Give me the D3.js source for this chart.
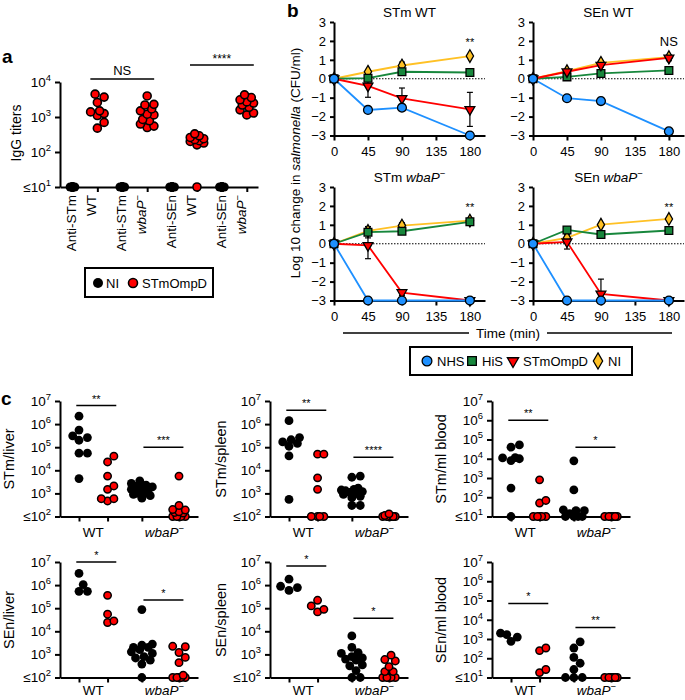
<!DOCTYPE html>
<html><head><meta charset="utf-8">
<script src="https://cdn.jsdelivr.net/npm/d3@7"></script>
<style>body{margin:0;background:#fff}svg{display:block}</style>
</head><body>
<svg id="chart" width="685" height="700"></svg>
<script>
// ================= DATA =================
// Panel a
const aCategories = [["Anti-STm","WT"],["Anti-STm","wbaP"],["Anti-SEn","WT"],["Anti-SEn","wbaP"]];
const aGroups = ["NI","STmOmpD"];
const aNI = [
  [10,10,10,10,10,10,10,10,10,10],
  [10,10,10,10,10,10,10,10,10,10],
  [10,10,10,10,10,10,10,10,10,10],
  [10,10,10,10,10,10,10,10,10,10]];
const aSTmOmpD = [
  [4500,3700,2600,1500,1400,1250,1100,700,480],
  [4000,2300,2200,1700,1500,1200,1150,850,780,630,550,500],
  [330,290,260,240,225,210,200,180,160,10],
  [4300,3600,3100,2700,2500,2200,1900,1600,1300,1150]];
const aTicks = [10,100,1000,10000];
const aSig = [{from:1,to:3,label:"NS"},{from:5,to:7,label:"****"}];

// Panel b
const bTimes = [0,45,90,180];
const bTimeTicks = [0,45,90,135,180];
const bYTicks = [-3,-2,-1,0,1,2,3];
const bSeries = ["NHS","HiS","STmOmpD","NI"];
const bTitles = [["STm WT",""],["SEn WT",""],["STm ","wbaP"],["SEn ","wbaP"]];
const bNHS      = [[0,-1.65,-1.53,-3.0],[0,-1.03,-1.18,-2.78],[0,-3,-3,-3],[0,-3,-3,-3]];
const bHiS      = [[0,0.03,0.37,0.33],[0,0.10,0.28,0.44],[0,0.61,0.66,1.16],[0,0.73,0.49,0.70]];
const bSTmOmpD  = [[0,-0.38,-1.04,-1.62],[0,0.37,0.72,1.10],[0,-0.09,-2.58,-3.0],[0,0.10,-2.65,-3.0]];
const bNI       = [[0,0.37,0.70,1.20],[0,0.40,0.84,1.14],[0,0.68,0.96,1.22],[0,0.31,1.01,1.31]];
const bNHSErr     = [[0,0.08,0.08,0],[0,0.05,0.05,0.05],[0,0,0,0],[0,0,0,0]];
const bHiSErr     = [[0,0.10,0.12,0.05],[0,0.05,0.08,0.05],[0,0.30,0.12,0.10],[0,0.12,0.08,0.05]];
const bSTmOmpDErr = [[0,0.60,0.55,0.90],[0,0.08,0.10,0.15],[0,0.70,0.15,0],[0,0.38,0.78,0]];
const bNIErr      = [[0,0.08,0.18,0.05],[0,0.08,0.12,0.08],[0,0.15,0.15,0.10],[0,0.08,0.05,0.05]];
const bSig = ["**","NS","**","**"];

// Panel c
const cPanels = ["STm/liver","STm/spleen","STm/ml blood","SEn/liver","SEn/spleen","SEn/ml blood"];
const cFloorExp = [2,2,1,2,2,1];
const cGroupLabels = ["WT","wbaP"];
const cNI_WT = [
  [2.2e6,5.5e5,3.1e5,2.6e5,2.0e5,5.5e4,5.5e4,4.4e3],
  [1.4e6,2.6e5,2.1e5,1.7e5,1.45e5,1.1e5,4.2e4,550],
  [5.2e4,4.0e4,1.15e4,1.1e4,1.0e4,8e3,300,10],
  [3.2e6,1.05e6,5.4e5,5.4e5],
  [1.8e6,8.9e5,7.8e5,5.9e5],
  [1700,760,1260,2000]];
const cOmpD_WT = [
  [41000,23000,5600,2100,1500,590,470,590],
  [5.0e4,5.0e4,4.7e3,1.5e3,100,100,100,100],
  [800,68,50,10,10,10,10,10],
  [3.6e5,5.5e4,2.4e4,2.8e4],
  [2.2e5,1.26e5,8.9e4,6.9e4],
  [340,250,26,18]];
const cNI_wbaP = [
  [3500,2700,2300,2000,1900,1700,1500,1100,1000,950,900,800,620],
  [5600,5000,1700,1500,1400,1300,1200,1100,1000,900,750,650,300,300],
  [7800,240,22,20,20,14,10,10,10,10],
  [8.7e4,2800,2500,2000,2000,1600,1300,1100,800,700,560,380,100],
  [6300,2000,1200,1100,800,700,630,560,350,320,200,100,100],
  [710,340,110,55,26,10,10,10]];
const cOmpD_wbaP = [
  [5600,300,200,190,160,150,140,100,100,100,100,100],
  [130,110,100,100,100,100,100,100],
  [10,10,10,10,10,10],
  [2240,2140,1200,740,440,125,100,100,100,100,100],
  [930,600,520,295,180,180,100,100,100,100,100],
  [10,10,10,10,10,10]];
const cSigWT   = ["**","**","**","*","*","*"];
const cSigWbaP = ["***","****","*","*","*","**"];
const cSigLevelWT   = [6.8,6.6,6.0,7.0,6.83,4.85];
const cSigLevelWbaP = [5.0,4.57,4.6,5.35,4.57,3.6];

// ================= STYLE / LAYOUT =================
const FONT = "'Liberation Sans', Arial, Helvetica, sans-serif";
const bColors = ["#1E90FF","#17873C","#FF0000","#FFC125"];
const svg = d3.select("#chart").attr("font-family", FONT);

function styleAxis(g, fs){
  g.attr("font-family", FONT).attr("font-size", fs || 13);
  g.select(".domain").attr("stroke","#000").attr("stroke-width",2);
  g.selectAll(".tick line").attr("stroke","#000").attr("stroke-width",2);
  g.selectAll(".tick text").attr("fill","#000");
}
function powLabels(g, floorVal){
  g.selectAll(".tick text").each(function(d){
    const t = d3.select(this); t.text(null);
    const e = Math.round(Math.log10(d));
    if (d === floorVal) t.append("tspan").text("≤");
    t.append("tspan").text("10");
    t.append("tspan").attr("dy",-6).attr("font-size","0.7em").text(e);
  });
}
function wbaPText(sel, prefix, label){
  if (prefix) sel.append("tspan").text(prefix);
  if (label === "wbaP"){
    sel.append("tspan").attr("font-style","italic").text("wbaP");
    sel.append("tspan").attr("dy",-5).attr("font-size","0.7em").text("−");
  } else sel.append("tspan").text(label);
}
function swarm(vals, yFn, r, maxW){
  const pts = vals.map(v=>({v, py:yFn(v)})).sort((a,b)=>d3.ascending(a.v,b.v));
  const step = r*0.5, cands=[0];
  for(let k=1;k*step<=maxW+1e-6;k++){cands.push(k*step,-k*step);}
  const placed=[];
  for(const p of pts){
    let best=0,bestD=-1;
    for(const c of cands){
      let md=Infinity;
      for(const q of placed){const d=Math.hypot(c-q.dx,p.py-q.py); if(d<md)md=d;}
      if(md>=2*r*0.9){best=c;break;}
      if(md>bestD+1e-9){bestD=md;best=c;}
    }
    p.dx=best; placed.push(p);
  }
  return pts;
}
function panelLetter(x,y,t){
  svg.append("text").attr("x",x).attr("y",y).attr("font-size",19).attr("font-weight","bold").text(t);
}

// ================= PANEL a =================
(function(){
  const g = svg.append("g");
  const ay = d3.scaleLog().domain([10,1e4]).range([187,82]);
  const ax = d3.scaleLinear().domain([-0.5,7.45]).range([60,258]);
  g.append("g").attr("transform","translate(60,0)")
    .call(d3.axisLeft(ay).tickValues(aTicks).tickSize(5).tickSizeOuter(0).tickPadding(4))
    .call(s=>styleAxis(s,13.5)).call(s=>powLabels(s,10));
  g.append("g").attr("transform","translate(0,187)")
    .call(d3.axisBottom(ax).tickValues(d3.range(8)).tickFormat("").tickSize(5).tickSizeOuter(0))
    .call(s=>styleAxis(s));
  g.append("text").attr("transform","translate(21,133) rotate(-90)").attr("text-anchor","middle")
    .attr("font-size",14).text("IgG titers");
  aCategories.forEach((c,i)=>{
    [[aNI[i],0,"#000"],[aSTmOmpD[i],1,"#FF0000"]].forEach(([vals,gi,col])=>{
      const cx = ax(2*i+gi);
      const pts = swarm(vals, ay, 4.5, gi===0?3:8);
      g.selectAll(null).data(pts).enter().append("circle")
        .attr("cx",d=>cx+d.dx).attr("cy",d=>d.py).attr("r",gi===0?4.6:4)
        .attr("fill",col).attr("stroke","#000").attr("stroke-width",gi===0?0:1.6);
    });
    const x0 = ax(2*i);
    const t1 = g.append("text").attr("transform",`translate(${x0+4},195) rotate(-90)`)
      .attr("text-anchor","end").attr("font-size",13.5);
    t1.text(c[0]);
    const t2 = g.append("text").attr("transform",`translate(${x0+24},195) rotate(-90)`)
      .attr("text-anchor","end").attr("font-size",13.5);
    wbaPText(t2,"",c[1]);
  });
  const sigY = [79,65];
  aSig.forEach((s,k)=>{
    const x1 = ax(s.from)-7, x2 = ax(s.to)+7;
    g.append("line").attr("x1",x1).attr("x2",x2).attr("y1",sigY[k]).attr("y2",sigY[k]).attr("stroke","#000").attr("stroke-width",1.5);
    g.append("text").attr("x",(x1+x2)/2).attr("y",sigY[k]-(s.label==="NS"?4:2)).attr("text-anchor","middle")
      .attr("font-size",s.label==="NS"?13:12).text(s.label);
  });
  // legend
  g.append("rect").attr("x",85).attr("y",268).attr("width",128).attr("height",29)
    .attr("fill","none").attr("stroke","#000").attr("stroke-width",2);
  g.append("circle").attr("cx",98).attr("cy",283).attr("r",5).attr("fill","#000");
  g.append("text").attr("x",106).attr("y",288).attr("font-size",13).text(aGroups[0]);
  g.append("circle").attr("cx",133).attr("cy",283).attr("r",4.5).attr("fill","#FF0000").attr("stroke","#000").attr("stroke-width",1.6);
  g.append("text").attr("x",142).attr("y",288).attr("font-size",13).text(aGroups[1]);
  panelLetter(2,63,"a");
})();

// ================= PANEL b =================
(function(){
  const seriesVals = [bNHS,bHiS,bSTmOmpD,bNI];
  const seriesErr = [bNHSErr,bHiSErr,bSTmOmpDErr,bNIErr];
  const symbols = [d3.symbolCircle,d3.symbolSquare,d3.symbolTriangle,d3.symbolDiamond];
  const sizes = [62,60,42,46];
  const layout = [[334,22],[533,22],[334,187],[533,187]];
  const drawOrder = [3,1,2,0];
  layout.forEach(([X,Y],k)=>{
    const g = svg.append("g");
    const x = d3.scaleLinear().domain([0,200]).range([X,X+151]);
    const y = d3.scaleLinear().domain([-3,3]).range([Y+113.5,Y]);
    g.append("line").attr("x1",x(0)).attr("x2",x(200)).attr("y1",y(0)).attr("y2",y(0))
      .attr("stroke","#000").attr("stroke-width",1).attr("stroke-dasharray","1.5,1.5");
    g.append("g").attr("transform",`translate(${X},0)`)
      .call(d3.axisLeft(y).tickValues(bYTicks).tickSize(4).tickSizeOuter(0).tickPadding(4)
        .tickFormat(d=>d<0?"−"+Math.abs(d):d)).call(s=>styleAxis(s,13));
    g.append("g").attr("transform",`translate(0,${y(-3)})`)
      .call(d3.axisBottom(x).tickValues(bTimeTicks).tickSize(5).tickSizeOuter(0).tickPadding(6))
      .call(s=>styleAxis(s,13));
    const line = d3.line().x((d,i)=>x(bTimes[i])).y(d=>y(d));
    drawOrder.forEach(si=>{
      g.append("path").attr("d",line(seriesVals[si][k])).attr("fill","none")
        .attr("stroke",bColors[si]).attr("stroke-width",1.8);
    });
    drawOrder.forEach(si=>{
      seriesVals[si][k].forEach((v,i)=>{
        const e = seriesErr[si][k][i];
        if(e>0){
          const lo = Math.max(-3,v-e), hi = Math.min(3,v+e), cx=x(bTimes[i]);
          g.append("line").attr("x1",cx).attr("x2",cx).attr("y1",y(lo)).attr("y2",y(hi)).attr("stroke","#000").attr("stroke-width",1.2);
          [lo,hi].forEach(b=>{ if(b>-3) g.append("line").attr("x1",cx-3).attr("x2",cx+3).attr("y1",y(b)).attr("y2",y(b)).attr("stroke","#000").attr("stroke-width",1.2);});
        }
      });
    });
    drawOrder.forEach(si=>{
      seriesVals[si][k].forEach((v,i)=>{
        g.append("path").attr("d",d3.symbol(symbols[si],sizes[si])())
          .attr("transform",`translate(${x(bTimes[i])},${y(v)})`+(si===2?" rotate(180)":""))
          .attr("fill",bColors[si]).attr("stroke","#000").attr("stroke-width",1.3);
      });
    });
    const tt = g.append("text").attr("x",(x(0)+x(200))/2).attr("y",Y-5).attr("text-anchor","middle").attr("font-size",13.5);
    wbaPText(tt,bTitles[k][0],bTitles[k][1]);
    g.append("text").attr("x",x(180)).attr("y",y(1.72)).attr("text-anchor","middle")
      .attr("font-size",bSig[k]==="NS"?13:11).text(bSig[k]);
  });
  const yl = svg.append("text").attr("transform","translate(300,163) rotate(-90)").attr("text-anchor","middle").attr("font-size",13.5);
  yl.append("tspan").text("Log 10 change in ");
  yl.append("tspan").attr("font-style","italic").text("salmonella");
  yl.append("tspan").text(" (CFU/ml)");
  svg.append("line").attr("x1",343).attr("x2",469).attr("y1",333).attr("y2",333).attr("stroke","#000").attr("stroke-width",1.3);
  svg.append("line").attr("x1",547).attr("x2",672).attr("y1",333).attr("y2",333).attr("stroke","#000").attr("stroke-width",1.3);
  svg.append("text").attr("x",508).attr("y",338).attr("text-anchor","middle").attr("font-size",13.5).text("Time (min)");
  // legend
  svg.append("rect").attr("x",410).attr("y",347).attr("width",222).attr("height",28)
    .attr("fill","none").attr("stroke","#000").attr("stroke-width",2);
  const legX = [427,472,513,598];
  bSeries.forEach((s,si)=>{
    svg.append("path").attr("d",d3.symbol(symbols[si],si===2?55:75)())
      .attr("transform",`translate(${legX[si]},361)`+(si===2?" rotate(180)":""))
      .attr("fill",bColors[si]).attr("stroke","#000").attr("stroke-width",1.3);
    svg.append("text").attr("x",legX[si]+10).attr("y",366).attr("font-size",13).text(s);
  });
  panelLetter(287,17,"b");
})();

// ================= PANEL c =================
(function(){
  const layout = [[60,401],[270,401],[492,401],[60,562],[270,562],[492,562]];
  const groupPos = [0,1,2.2,3.5];
  layout.forEach(([X,Y],k)=>{
    const g = svg.append("g");
    const floorVal = Math.pow(10,cFloorExp[k]);
    const y = d3.scaleLog().domain([floorVal,1e7]).range([Y+115.5,Y]);
    const x = d3.scaleLinear().domain([-0.665,4.165]).range([X,X+138]);
    g.append("g").attr("transform",`translate(${X},0)`)
      .call(d3.axisLeft(y).tickValues(d3.range(cFloorExp[k],8).map(e=>Math.pow(10,e))).tickSize(5).tickSizeOuter(0).tickPadding(4))
      .call(s=>styleAxis(s,13.5)).call(s=>powLabels(s,floorVal));
    g.append("g").attr("transform",`translate(0,${Y+115.5})`)
      .call(d3.axisBottom(x).tickValues(groupPos).tickFormat("").tickSize(5).tickSizeOuter(0))
      .call(s=>styleAxis(s));
    const groups = [[cNI_WT[k],0],[cOmpD_WT[k],1],[cNI_wbaP[k],0],[cOmpD_wbaP[k],1]];
    groups.forEach(([vals,red],gi)=>{
      const cx = x(groupPos[gi]);
      const pts = swarm(vals,y,4.2,red?8:11);
      g.selectAll(null).data(pts).enter().append("circle")
        .attr("cx",d=>cx+d.dx).attr("cy",d=>d.py).attr("r",red?3.7:4.4)
        .attr("fill",red?"#FF0000":"#000").attr("stroke","#000").attr("stroke-width",red?1.5:0);
    });
    [[0,1,cSigWT[k],cSigLevelWT[k]],[2,3,cSigWbaP[k],cSigLevelWbaP[k]]].forEach(([a,b,lab,lev])=>{
      const mid = (x(groupPos[a])+x(groupPos[b]))/2+3;
      const ly = y(Math.pow(10,lev));
      g.append("line").attr("x1",mid-20).attr("x2",mid+20).attr("y1",ly).attr("y2",ly).attr("stroke","#000").attr("stroke-width",1.5);
      g.append("text").attr("x",mid).attr("y",ly-3).attr("text-anchor","middle").attr("font-size",11).text(lab);
    });
    const labY = Y + (Y > 500 ? 133 : 136);
    g.append("text").attr("x",(x(groupPos[0])+x(groupPos[1]))/2).attr("y",labY).attr("text-anchor","middle").attr("font-size",13.5).text(cGroupLabels[0]);
    const t2 = g.append("text").attr("x",(x(groupPos[2])+x(groupPos[3]))/2+4).attr("y",labY).attr("text-anchor","middle").attr("font-size",13.5);
    wbaPText(t2,"",cGroupLabels[1]);
    const labX = [14,226,446][k%3];
    g.append("text").attr("transform",`translate(${labX},${Y+58}) rotate(-90)`).attr("text-anchor","middle").attr("font-size",14.5).text(cPanels[k]);
  });
  panelLetter(1,405,"c");
})();
</script>
</body></html>
